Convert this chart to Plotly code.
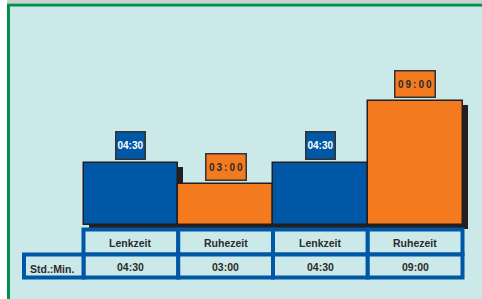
import plotly.graph_objects as go

# ---- data ----
categories = ["Lenkzeit", "Ruhezeit", "Lenkzeit", "Ruhezeit"]
hours = [4.5, 3.0, 4.5, 9.0]
time_labels = ["04:30", "03:00", "04:30", "09:00"]
row_label = "Std.:Min."

# ---- style ----
BLUE = "#0057A6"
ORANGE = "#F47A20"
BG = "#CCE9EA"
GREEN = "#00904A"
DARK = "#231F20"
TXT = "#2B2B2B"
FONT = "Liberation Sans"
bar_colors = [BLUE, ORANGE, BLUE, ORANGE]

W, H = 482, 299
PX_X = 94.75          # pixels per category
PX_Y = 13.78          # pixels per hour
X_LEFT_PX = 83.5      # pixel of x=-0.5
Y_BASE_PX = 225.0     # pixel of y=0

def dx(px):
    return -0.5 + (px - X_LEFT_PX) / PX_X

def dy(px):
    return (Y_BASE_PX - px) / PX_Y

xs = list(range(len(categories)))

fig = go.Figure()

# shadow
fig.add_trace(go.Bar(
    x=xs, y=hours, base=-4 / PX_Y, width=1, offset=-0.5 + 5 / PX_X,
    marker=dict(color=DARK, line=dict(width=0)), hoverinfo="skip", showlegend=False))
# bars
fig.add_trace(go.Bar(
    x=xs, y=hours, width=1,
    marker=dict(color=bar_colors, line=dict(color=DARK, width=1.5)),
    showlegend=False))

shapes = []
# outer background / frame
shapes.append(dict(type="rect", xref="paper", yref="paper", x0=7 / W, x1=1.0,
                   y0=1 - 3 / H, y1=1.0, fillcolor="#CFCFCF", line=dict(width=0), layer="below"))
shapes.append(dict(type="rect", xref="paper", yref="paper", x0=8.5 / W, x1=1.2,
                   y0=-0.2, y1=1 - 5 / H, fillcolor=BG, line=dict(color=GREEN, width=3), layer="below"))

# table
r1_top, r1_bot, r2_bot = dy(229.5), dy(254.5), dy(277.5)
for i in xs:
    for (a, b) in [(r1_top, r1_bot), (r1_bot, r2_bot)]:
        shapes.append(dict(type="rect", xref="x", yref="y", x0=i - 0.5, x1=i + 0.5,
                           y0=b, y1=a, fillcolor=BG, line=dict(color=BLUE, width=4)))
shapes.append(dict(type="rect", xref="x", yref="y", x0=dx(24), x1=-0.5,
                   y0=r2_bot, y1=r1_bot, fillcolor=BG, line=dict(color=BLUE, width=4)))

annotations = []
# value boxes above bars
for i, (v, t, c) in enumerate(zip(hours, time_labels, bar_colors)):
    if c == BLUE:
        annotations.append(dict(x=i, y=v, xref="x", yref="y", text=t, showarrow=False,
                                yanchor="bottom", yshift=3, bgcolor=BLUE, bordercolor="#333333",
                                borderwidth=1.5, borderpad=0, width=28, height=26,
                                font=dict(family=FONT, size=10, color="white", weight="bold")))
    else:
        spaced = "\u2009".join(t)
        annotations.append(dict(x=i, y=v, xref="x", yref="y", text=spaced, showarrow=False,
                                yanchor="bottom", yshift=3, bgcolor=ORANGE, bordercolor="#333333",
                                borderwidth=1.5, borderpad=0, width=39, height=25,
                                font=dict(family=FONT, size=10, color=TXT, weight="bold")))
# table texts
for i, (cat, t) in enumerate(zip(categories, time_labels)):
    annotations.append(dict(x=i, y=(r1_top + r1_bot) / 2, xref="x", yref="y", text=cat,
                            showarrow=False, yshift=-1,
                            font=dict(family=FONT, size=10.5, color=TXT, weight="bold")))
    annotations.append(dict(x=i, y=(r1_bot + r2_bot) / 2, xref="x", yref="y", text=t,
                            showarrow=False, yshift=-1,
                            font=dict(family=FONT, size=10.5, color=TXT, weight="bold")))
annotations.append(dict(x=dx(28), y=(r1_bot + r2_bot) / 2, xref="x", yref="y", text=row_label,
                        showarrow=False, xanchor="left", yshift=-3,
                        font=dict(family=FONT, size=10.5, color=TXT, weight="bold")))

fig.update_layout(
    width=W, height=H, margin=dict(l=0, r=0, t=0, b=0),
    paper_bgcolor="white", plot_bgcolor="rgba(0,0,0,0)",
    barmode="overlay", bargap=0,
    xaxis=dict(range=[dx(0), dx(W)], visible=False, fixedrange=True),
    yaxis=dict(range=[dy(H), dy(0)], visible=False, fixedrange=True),
    shapes=shapes, annotations=annotations, showlegend=False,
)

fig.write_html(
    "out.html",
    config={"displayModeBar": False},
    post_script="document.body.style.margin='0';document.body.style.overflow='hidden';",
)
